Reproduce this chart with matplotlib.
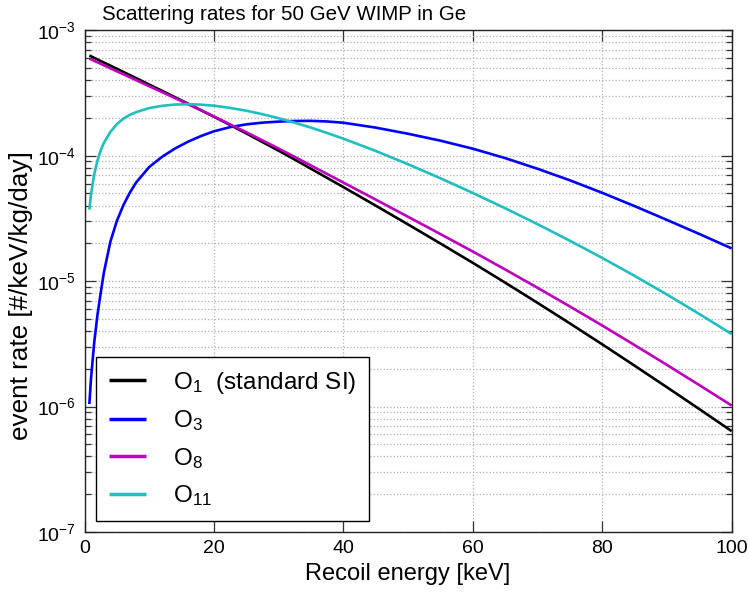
import matplotlib
matplotlib.use("Agg")
import matplotlib.pyplot as plt
from matplotlib.ticker import LogLocator, NullFormatter, FixedLocator

# ---- data (rates given as log10 of event rate) ----
energy_keV = [0.75, 1, 1.5, 2, 2.5, 3, 4, 5, 6, 7, 8, 10, 12, 14, 16, 18, 20, 22.5, 25,
              27.5, 30, 32.5, 35, 37.5, 40, 45, 50, 55, 60, 65, 70, 75, 80, 85, 90, 95, 100]

log10_rate_O1 = [-3.201, -3.207, -3.220, -3.232, -3.245, -3.257, -3.282, -3.307, -3.332,
                 -3.357, -3.382, -3.433, -3.483, -3.534, -3.585, -3.637, -3.689, -3.755,
                 -3.822, -3.891, -3.960, -4.031, -4.104, -4.177, -4.250, -4.398, -4.548,
                 -4.700, -4.854, -5.012, -5.173, -5.337, -5.504, -5.674, -5.846, -6.020,
                 -6.196]

log10_rate_O3 = [-5.980, -5.780, -5.490, -5.270, -5.095, -4.930, -4.685, -4.520, -4.395,
                 -4.295, -4.212, -4.090, -4.008, -3.942, -3.888, -3.843, -3.805, -3.772,
                 -3.750, -3.736, -3.728, -3.723, -3.722, -3.727, -3.737, -3.776, -3.825,
                 -3.880, -3.944, -4.019, -4.104, -4.196, -4.296, -4.402, -4.512, -4.624,
                 -4.739]

log10_rate_O8 = [-3.226, -3.231, -3.244, -3.255, -3.267, -3.279, -3.303, -3.327, -3.350,
                 -3.374, -3.398, -3.446, -3.493, -3.541, -3.589, -3.638, -3.687, -3.750,
                 -3.813, -3.878, -3.943, -4.010, -4.078, -4.146, -4.214, -4.350, -4.487,
                 -4.625, -4.764, -4.907, -5.053, -5.202, -5.354, -5.510, -5.668, -5.829,
                 -5.992]

log10_rate_O11 = [-4.430, -4.310, -4.148, -4.040, -3.958, -3.897, -3.810, -3.748, -3.705,
                  -3.674, -3.652, -3.620, -3.602, -3.592, -3.589, -3.593, -3.601, -3.619,
                  -3.641, -3.669, -3.701, -3.737, -3.776, -3.819, -3.864, -3.962, -4.068,
                  -4.180, -4.297, -4.419, -4.546, -4.678, -4.815, -4.958, -5.107, -5.262,
                  -5.422]

series_labels = ["O$_1$  (standard SI)", "O$_3$", "O$_8$", "O$_{11}$"]
series_colors = ["#000000", "#0000ff", "#c000c0", "#1fbfbf"]

x_ticks = [0, 20, 40, 60, 80, 100]
y_ticks = [1e-7, 1e-6, 1e-5, 1e-4, 1e-3]
y_ticklabels = ["10$^{-7}$", "10$^{-6}$", "10$^{-5}$", "10$^{-4}$", "10$^{-3}$"]

title_text = "Scattering rates for 50 GeV WIMP in Ge"
xlabel_text = "Recoil energy [keV]"
ylabel_text = "event rate [#/keV/kg/day]"

# ---- styling ----
plt.rcParams["font.family"] = ["Liberation Sans", "DejaVu Sans"]
plt.rcParams["mathtext.fontset"] = "custom"
plt.rcParams["mathtext.rm"] = "Liberation Sans"
plt.rcParams["mathtext.it"] = "Liberation Sans:italic"
plt.rcParams["mathtext.bf"] = "Liberation Sans:bold"
plt.rcParams["axes.unicode_minus"] = False

W, H = 749, 592
fig = plt.figure(figsize=(W / 100, H / 100), dpi=100)
ax_l, ax_r, ax_t, ax_b = 84.5, 731.7, 30.3, 532.0
ax = fig.add_axes([ax_l / W, 1 - ax_b / H, (ax_r - ax_l) / W, (ax_b - ax_t) / H])

for logy, lab, col in zip([log10_rate_O1, log10_rate_O3, log10_rate_O8, log10_rate_O11],
                          series_labels, series_colors):
    ax.plot(energy_keV, [10.0 ** v for v in logy], color=col, lw=1.9, label=lab,
            solid_capstyle="butt", solid_joinstyle="round")

ax.set_yscale("log")
ax.set_xlim(0, 100)
ax.set_ylim(1e-7, 1e-3)
ax.xaxis.set_major_locator(FixedLocator(x_ticks))
ax.set_yticks(y_ticks)
ax.set_yticklabels(y_ticklabels)
ax.yaxis.set_minor_locator(LogLocator(base=10, subs=range(2, 10), numticks=20))
ax.yaxis.set_minor_formatter(NullFormatter())

ax.grid(True, which="major", axis="both", ls=":", color="#b0b0b0", lw=0.9)
ax.grid(True, which="minor", axis="y", ls=":", color="#b0b0b0", lw=0.9)
ax.set_axisbelow(True)

ax.tick_params(which="both", direction="in", top=True, right=True, labelsize=14,
               color="#333333", width=0.9)
ax.tick_params(which="major", length=8, pad=6)
ax.tick_params(which="minor", length=4)
for s in ax.spines.values():
    s.set_linewidth(1.0)
    s.set_color("#222222")

ax.set_xlabel(xlabel_text, fontsize=17, labelpad=4)
ax.set_ylabel(ylabel_text, fontsize=18.8)
ax.yaxis.set_label_coords((33 - ax_l) / (ax_r - ax_l), (ax_b - 296) / (ax_b - ax_t))

fig.text(284 / W, 1 - 15 / H, title_text, ha="center", va="center", fontsize=14.8)

leg = ax.legend(loc="lower left",
                bbox_to_anchor=((96 - ax_l) / (ax_r - ax_l), (ax_b - 521) / (ax_b - ax_t)),
                borderaxespad=0, fontsize=17.5, handlelength=1.55, handletextpad=1.1,
                labelspacing=0.52, borderpad=0.52, fancybox=False, framealpha=1,
                edgecolor="black")
leg.get_frame().set_linewidth(1.0)
for h in leg.get_lines():
    h.set_linewidth(2.5)

fig.savefig("out.png", dpi=100)
